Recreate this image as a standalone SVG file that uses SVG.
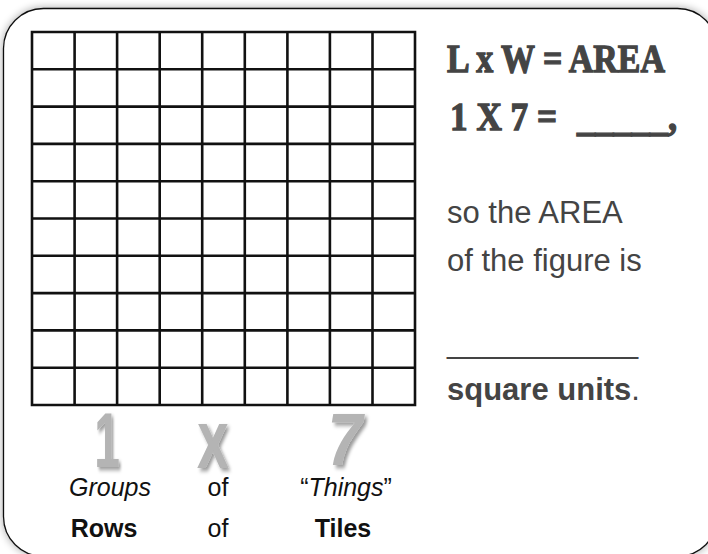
<svg xmlns="http://www.w3.org/2000/svg" width="708" height="554" viewBox="0 0 708 554">
  <defs>
    <filter id="frameShadow" x="-5%" y="-5%" width="110%" height="110%">
      <feGaussianBlur in="SourceAlpha" stdDeviation="4"/>
      <feComponentTransfer><feFuncA type="linear" slope="0.35"/></feComponentTransfer>
      <feMerge><feMergeNode/><feMergeNode in="SourceGraphic"/></feMerge>
    </filter>
    <filter id="glyphShadow" x="-40%" y="-30%" width="180%" height="170%">
      <feDropShadow dx="3" dy="3" stdDeviation="2" flood-color="#000" flood-opacity="0.4"/>
    </filter>
  </defs>
  <style>
    .grid { fill: none; stroke: #111; stroke-width: 2.6; stroke-linecap: square; }
    .stencil { font-family: "Liberation Serif", "DejaVu Serif", serif; font-weight: bold; fill: #444; stroke: #444; stroke-width: 1.3; stroke-linejoin: miter; }
    .body { font-family: "Liberation Sans", Arial, sans-serif; font-size: 31px; fill: #444; }
    .label { font-family: "Liberation Sans", Arial, sans-serif; font-size: 25px; fill: #111; text-anchor: middle; }
    .factor { font-family: "Liberation Sans", Arial, sans-serif; font-weight: bold; fill: #b4b4b4; text-anchor: middle; filter: url(#glyphShadow); }
  </style>
  <rect width="708" height="554" fill="#fff"/>
  <g id="frame">
    <rect x="3.5" y="8.5" width="714" height="548" rx="40" ry="40" fill="#fff" stroke="#111" stroke-width="1.3" filter="url(#frameShadow)"/>
  </g>
  <g id="grid">
    <path class="grid" d="M32 32H415M32 69.3H415M32 106.6H415M32 143.9H415M32 181.2H415M32 218.5H415M32 255.8H415M32 293.1H415M32 330.4H415M32 367.7H415M32 405H415
      M32 32V405M74.6 32V405M117.1 32V405M159.7 32V405M202.2 32V405M244.8 32V405M287.4 32V405M329.9 32V405M372.5 32V405M415 32V405"/>
  </g>
  <g id="equation">
    <text class="stencil" x="447" y="72" font-size="40" textLength="218" lengthAdjust="spacingAndGlyphs">L x W = AREA</text>
    <text class="stencil" y="130" font-size="40"><tspan x="450" textLength="107" lengthAdjust="spacingAndGlyphs">1 X 7 =</tspan><tspan x="577" textLength="100" lengthAdjust="spacingAndGlyphs">_____,</tspan></text>
  </g>
  <g id="explanation">
    <text class="body" x="447" y="223">so the AREA</text>
    <text class="body" x="447" y="271">of the figure is</text>
    <text class="body" x="447" y="353" textLength="191" lengthAdjust="spacingAndGlyphs">___________</text>
    <text class="body" x="447" y="400"><tspan font-weight="bold">square units</tspan>.</text>
  </g>
  <g id="factors">
    <text class="factor" x="107" y="467" font-size="77" transform="translate(107 0) scale(0.6 1) translate(-107 0)">1</text>
    <text class="factor" x="213" y="467" font-size="61" font-weight="normal" stroke="#b4b4b4" stroke-width="2" transform="translate(213 0) scale(0.72 1) translate(-213 0)">X</text>
    <text class="factor" x="345" y="465" font-size="74" font-style="italic" transform="translate(345 0) scale(0.85 1) translate(-345 0)">7</text>
  </g>
  <g id="labels">
    <text class="label" x="110" y="496" font-style="italic">Groups</text>
    <text class="label" x="218" y="496">of</text>
    <text class="label" x="346" y="496">“<tspan font-style="italic">Things</tspan>”</text>
    <text class="label" x="104" y="537" font-weight="bold">Rows</text>
    <text class="label" x="218" y="537">of</text>
    <text class="label" x="343" y="537" font-weight="bold">Tiles</text>
  </g>
</svg>
